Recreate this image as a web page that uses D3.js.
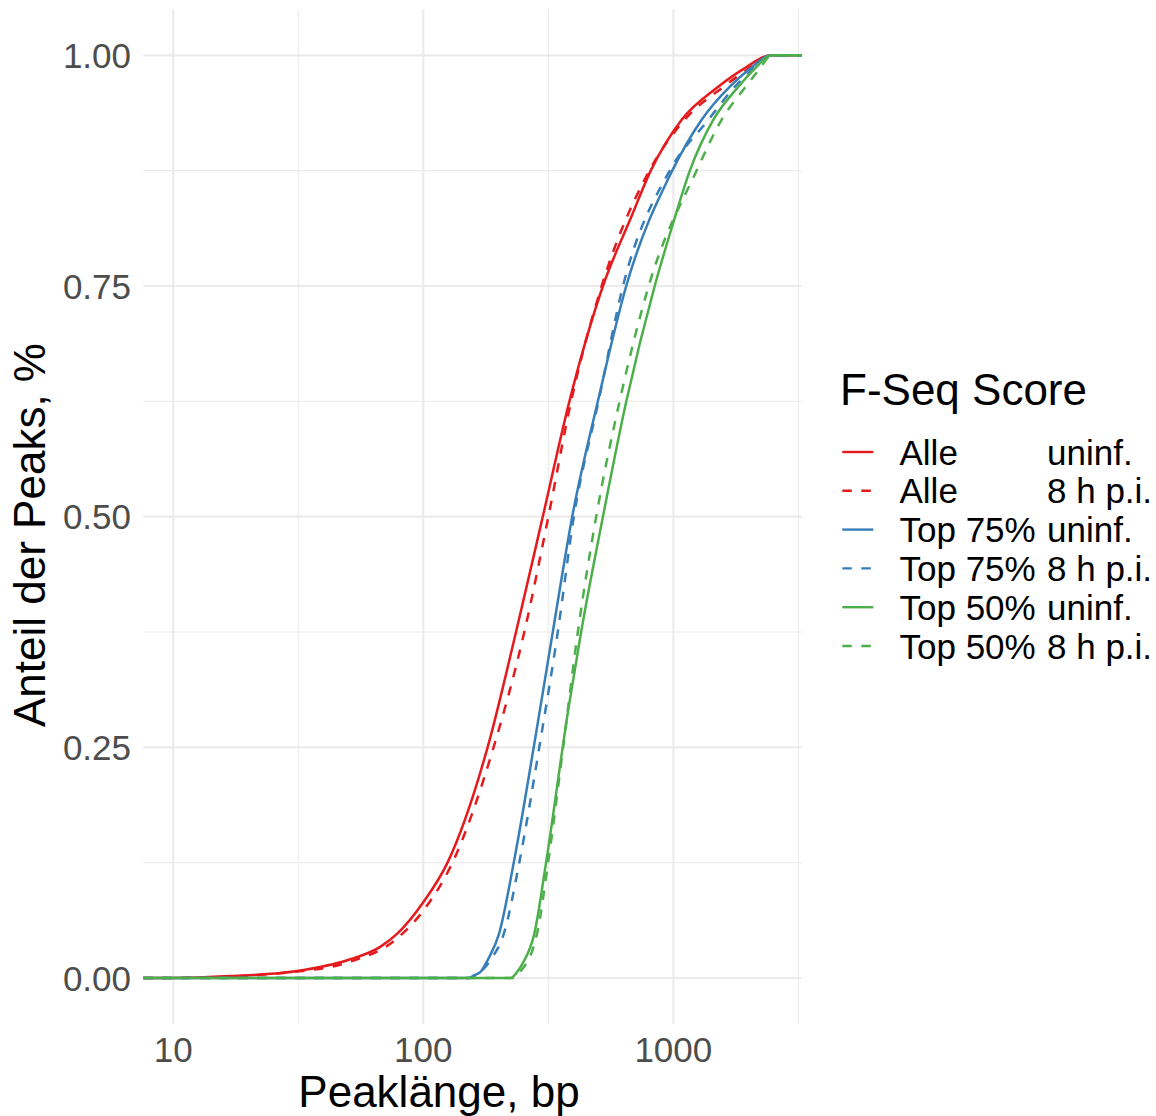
<!DOCTYPE html>
<html>
<head>
<meta charset="utf-8">
<script src="https://cdn.jsdelivr.net/npm/d3@7"></script>
<style>
  body { margin: 0; background: #ffffff; }
  svg { display: block; }
  text { font-family: "Liberation Sans", Arial, Helvetica, sans-serif; }
</style>
</head>
<body>
<svg id="chart" width="1156" height="1116"></svg>
<script>
// Cumulative distribution of peak lengths (bp) per F-Seq score group and condition
const alleUninfBp   = [10, 16.9, 31.3, 50, 67.5, 78.7, 100, 125, 180.8, 234.9, 300.5, 384, 523, 679, 812, 1078, 1512, 1876, 2475];
const alleUninfFrac = [0, 0.002, 0.0076, 0.0195, 0.034, 0.048, 0.082, 0.125, 0.25, 0.375, 0.5, 0.625, 0.75, 0.825, 0.875, 0.93, 0.966, 0.984, 1.0];

const alleHpiBp   = [10, 31.3, 50, 78.7, 100, 130.8, 191, 253.5, 316.4, 390, 517, 802, 1108, 1588, 1963, 2475];
const alleHpiFrac = [0, 0.007, 0.017, 0.043, 0.073, 0.125, 0.25, 0.375, 0.5, 0.625, 0.75, 0.875, 0.93, 0.966, 0.984, 1.0];

const top75UninfBp   = [152, 160, 170, 181, 201, 230, 276.5, 329.5, 394, 499, 648, 990, 1296, 1683, 1995, 2475];
const top75UninfFrac = [0, 0.003, 0.007, 0.0195, 0.048, 0.125, 0.25, 0.375, 0.5, 0.625, 0.75, 0.875, 0.93, 0.966, 0.984, 1.0];

const top75HpiBp   = [154, 165, 186, 210, 242, 291, 345, 400, 502, 629, 967, 1379, 1763, 2056, 2475];
const top75HpiFrac = [0, 0.004, 0.02, 0.048, 0.125, 0.25, 0.375, 0.5, 0.625, 0.75, 0.875, 0.93, 0.966, 0.984, 1.0];

const top50UninfBp   = [224, 235, 250, 278, 309.7, 379.6, 427.7, 522.9, 648.4, 842.2, 998, 1164, 1444, 1820, 2090, 2475];
const top50UninfFrac = [0, 0.005, 0.016, 0.048, 0.125, 0.29, 0.375, 0.5, 0.625, 0.75, 0.818, 0.875, 0.93, 0.966, 0.984, 1.0];

const top50HpiBp   = [230, 241, 285, 315.5, 362.5, 415, 491.4, 609.5, 796.8, 1238, 1559, 1947, 2195, 2475];
const top50HpiFrac = [0, 0.005, 0.048, 0.125, 0.25, 0.375, 0.5, 0.625, 0.75, 0.875, 0.93, 0.966, 0.984, 1.0];

// Legend entries (score group + condition), colours and line types
const seriesGroups     = ["Alle", "Alle", "Top 75%", "Top 75%", "Top 50%", "Top 50%"];
const seriesConditions = ["uninf.", "8 h p.i.", "uninf.", "8 h p.i.", "uninf.", "8 h p.i."];
const seriesColors     = ["#E41A1C", "#E41A1C", "#377EB8", "#377EB8", "#4DAF4A", "#4DAF4A"];
const seriesDashed     = [false, true, false, true, false, true];
const seriesBp   = [alleUninfBp, alleHpiBp, top75UninfBp, top75HpiBp, top50UninfBp, top50HpiBp];
const seriesFrac = [alleUninfFrac, alleHpiFrac, top75UninfFrac, top75HpiFrac, top50UninfFrac, top50HpiFrac];

// Axis breaks
const xTicks = [10, 100, 1000];
const xTickLabels = ["10", "100", "1000"];
const xMinorTicks = [31.62, 316.2, 3162];
const yTicks = [0, 0.25, 0.5, 0.75, 1];
const yTickLabels = ["0.00", "0.25", "0.50", "0.75", "1.00"];
const yMinorTicks = [0.125, 0.375, 0.625, 0.875];

const series = seriesGroups.map((g, i) => ({
  group: g,
  condition: seriesConditions[i],
  color: seriesColors[i],
  dashed: seriesDashed[i],
  values: seriesBp[i].map((bp, j) => [bp, seriesFrac[i][j]])
}));

// Panel geometry
const panel = { left: 143.3, right: 801.7, top: 9.2, bottom: 1024.1 };

// Log x scale expanded by 5% of the data range on each side
const allBp = series.flatMap(s => s.values.map(v => v[0]));
const lo = Math.log10(d3.min(allBp)), hi = Math.log10(d3.max(allBp));
const pad = (hi - lo) * 0.05;
const x = d3.scaleLog()
  .domain([Math.pow(10, lo - pad), Math.pow(10, hi + pad)])
  .range([panel.left, panel.right]);
const y = d3.scaleLinear()
  .domain([-0.05, 1.05])
  .range([panel.bottom, panel.top]);

const svg = d3.select("#chart");
svg.append("rect").attr("width", 1156).attr("height", 1116).attr("fill", "#ffffff");

// Grid
const grid = svg.append("g").attr("class", "grid");
grid.selectAll("line.xminor").data(xMinorTicks).join("line")
  .attr("x1", d => x(d)).attr("x2", d => x(d))
  .attr("y1", panel.top).attr("y2", panel.bottom)
  .attr("stroke", "#EBEBEB").attr("stroke-width", 1.1);
grid.selectAll("line.yminor").data(yMinorTicks).join("line")
  .attr("x1", panel.left).attr("x2", panel.right)
  .attr("y1", d => y(d)).attr("y2", d => y(d))
  .attr("stroke", "#EBEBEB").attr("stroke-width", 1.1);
grid.selectAll("line.xmajor").data(xTicks).join("line")
  .attr("x1", d => x(d)).attr("x2", d => x(d))
  .attr("y1", panel.top).attr("y2", panel.bottom)
  .attr("stroke", "#EBEBEB").attr("stroke-width", 2.1);
grid.selectAll("line.ymajor").data(yTicks).join("line")
  .attr("x1", panel.left).attr("x2", panel.right)
  .attr("y1", d => y(d)).attr("y2", d => y(d))
  .attr("stroke", "#EBEBEB").attr("stroke-width", 2.1);

// ECDF curves, padded to the panel edges at 0 and 1
const [xMin, xMax] = x.domain();
const line = d3.line()
  .x(d => x(d[0]))
  .y(d => y(d[1]))
  .curve(d3.curveMonotoneX);

svg.append("g").attr("class", "curves")
  .selectAll("path").data(series).join("path")
  .attr("d", s => line([[xMin, 0], ...s.values, [xMax, 1]]))
  .attr("fill", "none")
  .attr("stroke", s => s.color)
  .attr("stroke-width", 2.5)
  .attr("stroke-linejoin", "round")
  .attr("stroke-dasharray", s => s.dashed ? "9.5,9.5" : null);

// Axes (tick labels only, as in a minimal theme)
const tickColor = "#4D4D4D";
svg.append("g").selectAll("text").data(xTicks).join("text")
  .attr("x", d => x(d)).attr("y", 1061.5)
  .attr("text-anchor", "middle")
  .attr("font-size", 35).attr("fill", tickColor)
  .text((d, i) => xTickLabels[i]);

svg.append("g").selectAll("text").data(yTicks).join("text")
  .attr("x", 131).attr("y", d => y(d))
  .attr("dy", "0.36em")
  .attr("text-anchor", "end")
  .attr("font-size", 35).attr("fill", tickColor)
  .text((d, i) => yTickLabels[i]);

// Axis titles
svg.append("text")
  .attr("x", 439).attr("y", 1107)
  .attr("text-anchor", "middle")
  .attr("font-size", 44).attr("fill", "#000000")
  .text("Peaklänge, bp");

svg.append("text")
  .attr("transform", "translate(45,535) rotate(-90)")
  .attr("text-anchor", "middle")
  .attr("font-size", 44).attr("fill", "#000000")
  .text("Anteil der Peaks, %");

// Legend
const legend = svg.append("g").attr("class", "legend");
legend.append("text")
  .attr("x", 840).attr("y", 405)
  .attr("font-size", 44).attr("fill", "#000000")
  .text("F-Seq Score");

const rowY = i => 452 + i * 38.8;
const rows = legend.selectAll("g.row").data(series).join("g").attr("class", "row");
rows.append("line")
  .attr("x1", 842.3).attr("x2", 873.3)
  .attr("y1", (d, i) => rowY(i)).attr("y2", (d, i) => rowY(i))
  .attr("stroke", d => d.color)
  .attr("stroke-width", 2.4)
  .attr("stroke-dasharray", d => d.dashed ? "9.5,9.5" : null);
const labels = rows.append("text")
  .attr("y", (d, i) => rowY(i))
  .attr("dy", "0.36em")
  .attr("font-size", 35).attr("fill", "#000000");
labels.append("tspan").attr("x", 899.5).text(d => d.group);
labels.append("tspan").attr("x", 1047).text(d => d.condition);
</script>
</body>
</html>
